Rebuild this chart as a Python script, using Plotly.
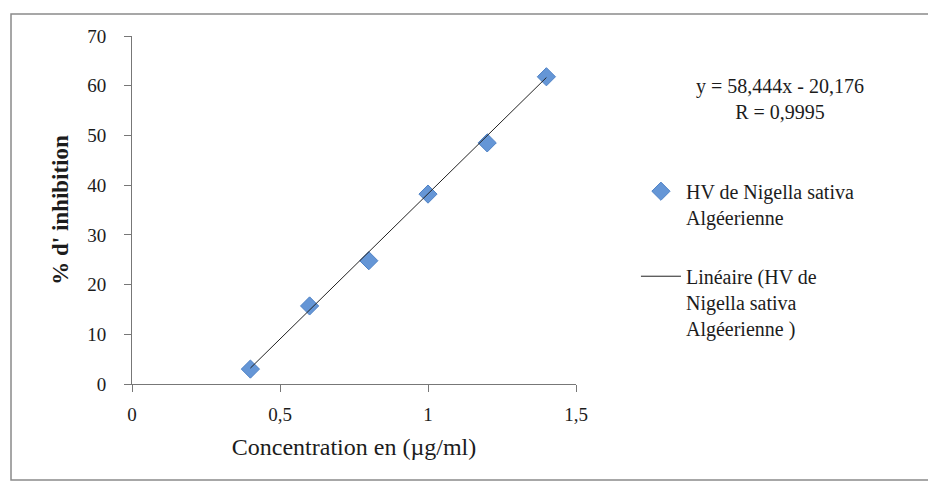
import plotly.graph_objects as go

conc = [0.4, 0.6, 0.8, 1.0, 1.2, 1.4]
inhib = [3.0, 15.7, 24.8, 38.2, 48.5, 61.8]
slope = 58.444
intercept = -20.176
x_ticks = [0, 0.5, 1, 1.5]
x_tick_labels = ["0", "0,5", "1", "1,5"]
y_ticks = [0, 10, 20, 30, 40, 50, 60, 70]

fit_x = [min(conc), max(conc)]
fit_y = [slope * v + intercept for v in fit_x]

FONT = "Liberation Serif"
INK = "#1c1c1c"

fig = go.Figure()
fig.add_trace(go.Scatter(
    x=conc, y=inhib, mode="markers",
    marker=dict(symbol="diamond", size=14, color="#6596D6",
                line=dict(color="#4F82C6", width=1)),
    name="HV de Nigella sativa<br>Algéerienne",
    legendgroup="a",
))
fig.add_trace(go.Scatter(
    x=fit_x, y=fit_y, mode="lines",
    line=dict(color="#222222", width=1),
    name="Linéaire (HV de<br>Nigella sativa<br>Algéerienne )",
    legendgroup="b",
))

fig.update_layout(
    width=928, height=474,
    margin=dict(l=124, r=360, t=28, b=98),
    paper_bgcolor="white", plot_bgcolor="white",
    font=dict(family=FONT, size=17, color=INK),
    showlegend=True,
    legend=dict(x=1.135, y=0.61, xanchor="left", yanchor="top",
                font=dict(family=FONT, size=20, color=INK),
                valign="top", tracegroupgap=30, itemwidth=40,
                bgcolor="rgba(0,0,0,0)"),
    xaxis=dict(range=[0, 1.5], tickvals=x_ticks, ticktext=x_tick_labels,
               showgrid=False, zeroline=False, showline=True,
               linecolor="#777777", linewidth=1, ticks="outside",
               ticklen=7, tickcolor="#777777", ticklabelstandoff=6,
               tickfont=dict(family=FONT, size=19, color=INK),
               title=dict(text="Concentration en (µg/ml)",
                          font=dict(family=FONT, size=24, color=INK),
                          standoff=14)),
    yaxis=dict(range=[0, 70], tickvals=y_ticks,
               showgrid=False, zeroline=False, showline=True,
               linecolor="#777777", linewidth=1, ticks="outside",
               ticklen=7, tickcolor="#777777", ticklabelstandoff=14,
               tickfont=dict(family=FONT, size=19, color=INK),
               title=dict(text="<b>% d' inhibition</b>",
                          font=dict(family=FONT, size=23, color=INK),
                          standoff=12)),
    annotations=[
        dict(text="y = 58,444x - 20,176<br>R = 0,9995",
             xref="paper", yref="paper", x=1.459, y=0.819,
             xanchor="center", yanchor="middle", showarrow=False,
             font=dict(family=FONT, size=20, color=INK)),
    ],
    shapes=[
        dict(type="rect", xref="paper", yref="paper",
             x0=-0.2725, x1=1.85, y0=-0.276, y1=1.063,
             line=dict(color="#8a8a8a", width=1.5)),
    ],
)

fig.write_html("out.html")
